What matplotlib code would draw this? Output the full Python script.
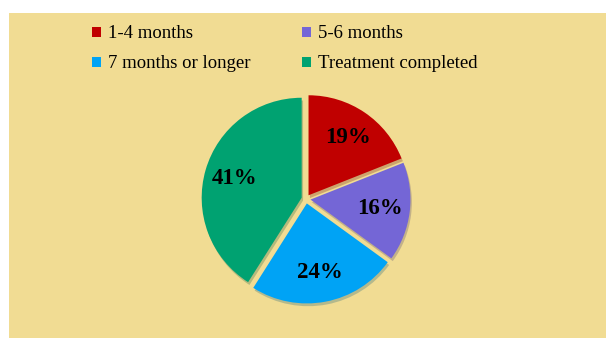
import matplotlib
matplotlib.use("Agg")
import matplotlib.pyplot as plt
from matplotlib.patches import Rectangle

categories = ["1-4 months", "5-6 months", "7 months or longer", "Treatment completed"]
shares = [19, 16, 24, 41]
colors = ["#C00000", "#7466D6", "#00A3F5", "#00A271"]

W, H = 606, 338
fig = plt.figure(figsize=(W / 100, H / 100), dpi=100)
fig.patch.set_facecolor("white")
fig.add_artist(Rectangle((9 / W, 0), 1 - 9 / W, (H - 13) / H,
                         transform=fig.transFigure, facecolor="#F1DC93",
                         edgecolor="none", zorder=0))

# pie axes: centre at (306, 199) px from top-left, radius ~102 px
cx, cy, R = 306, 199, 102
half = 125
ax = fig.add_axes([(cx - half) / W, (H - cy - half) / H, 2 * half / W, 2 * half / H])
ax.set_xlim(-half / R, half / R)
ax.set_ylim(-half / R, half / R)
ax.set_aspect("equal")
ax.axis("off")

wedges, texts, autotexts = ax.pie(
    shares, colors=colors, startangle=90, counterclock=False,
    explode=[0.045] * 4, autopct=lambda p: f"{p:.0f}%", pctdistance=0.7,
    shadow={"ox": 0.01, "oy": -0.02, "shade": 0.5, "alpha": 0.25},
    wedgeprops={"linewidth": 0},
    textprops={"family": "Liberation Serif", "fontsize": 16.5, "fontweight": "bold",
               "color": "black"})

# legend filled row by row: 1-4 | 5-6 on top, 7+ | completed below
order = [0, 2, 1, 3]
fig.legend([wedges[i] for i in order], [categories[i] for i in order],
           ncol=2, loc="upper left",
           bbox_to_anchor=(83 / W, 1 - 16 / H), frameon=False,
           prop={"family": "Liberation Serif", "size": 13.5},
           handlelength=0.45, handleheight=0.45, handletextpad=0.4,
           columnspacing=2.75, labelspacing=0.7, borderpad=0)

fig.savefig("out.png", dpi=100)
